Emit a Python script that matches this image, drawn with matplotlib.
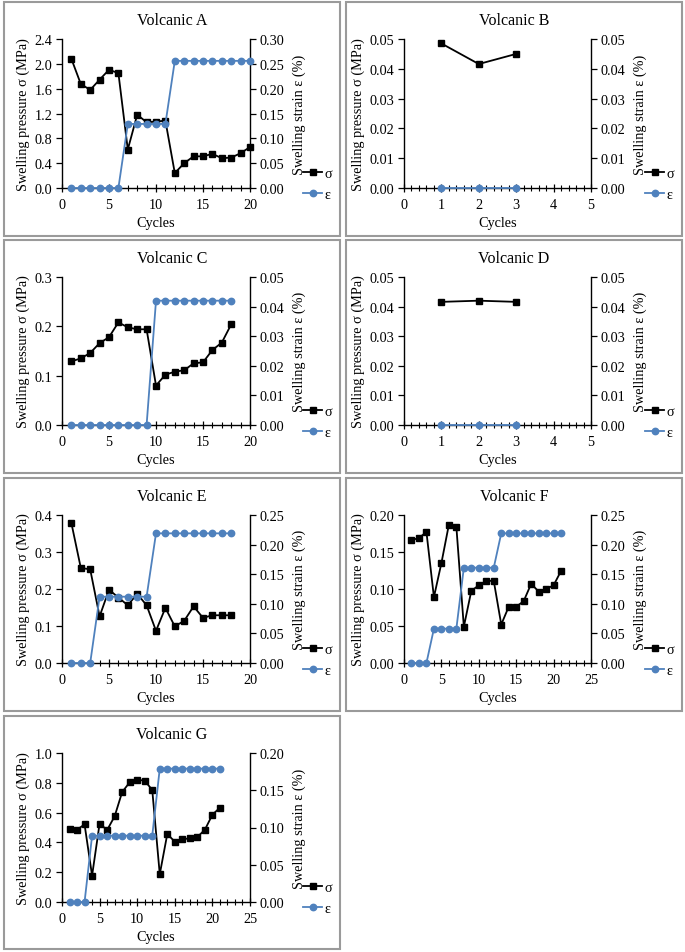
import matplotlib
matplotlib.use("Agg")
import matplotlib.pyplot as plt
from matplotlib.patches import Rectangle
from matplotlib.lines import Line2D
from matplotlib.ticker import MultipleLocator, FormatStrFormatter

plt.rcParams['font.family'] = ['Liberation Serif', 'DejaVu Serif']

W, H = 685, 953

# ---- data ----
cycles_a = list(range(1, 21))
sigma_a = [2.08, 1.675, 1.58, 1.745, 1.905, 1.85, 0.62, 1.18, 1.06, 1.07,
           1.085, 0.24, 0.40, 0.51, 0.51, 0.55, 0.48, 0.49, 0.56, 0.66]
eps_a = [0, 0, 0, 0, 0, 0, 0.129, 0.129, 0.129, 0.129,
         0.129, 0.256, 0.256, 0.256, 0.256, 0.256, 0.256, 0.256, 0.256, 0.256]

cycles_b = [1, 2, 3]
sigma_b = [0.0485, 0.0416, 0.045]
eps_b = [0, 0, 0]

cycles_c = list(range(1, 19))
sigma_c = [0.129, 0.135, 0.146, 0.166, 0.178, 0.208, 0.198, 0.194, 0.194,
           0.080, 0.102, 0.108, 0.111, 0.125, 0.127, 0.152, 0.167, 0.204]
eps_c = [0, 0, 0, 0, 0, 0, 0, 0, 0,
         0.042, 0.042, 0.042, 0.042, 0.042, 0.042, 0.042, 0.042, 0.042]

cycles_d = [1, 2, 3]
sigma_d = [0.0416, 0.042, 0.0416]
eps_d = [0, 0, 0]

cycles_e = list(range(1, 19))
sigma_e = [0.378, 0.257, 0.253, 0.126, 0.198, 0.177, 0.156, 0.187, 0.156,
           0.087, 0.149, 0.099, 0.114, 0.153, 0.122, 0.129, 0.129, 0.129]
eps_e = [0, 0, 0, 0.112, 0.112, 0.112, 0.112, 0.112, 0.112,
         0.219, 0.219, 0.219, 0.219, 0.219, 0.219, 0.219, 0.219, 0.219]

cycles_f = list(range(1, 22))
sigma_f = [0.166, 0.169, 0.177, 0.089, 0.135, 0.187, 0.184, 0.049, 0.0975,
           0.105, 0.111, 0.111, 0.052, 0.076, 0.076, 0.0836, 0.107, 0.0966,
           0.100, 0.105, 0.1245]
eps_f = [0, 0, 0, 0.058, 0.058, 0.058, 0.058, 0.161, 0.161, 0.161, 0.161,
         0.161, 0.219, 0.219, 0.219, 0.219, 0.219, 0.219, 0.219, 0.219, 0.219]

cycles_g = list(range(1, 22))
sigma_g = [0.492, 0.485, 0.521, 0.177, 0.526, 0.483, 0.575, 0.738, 0.803,
           0.821, 0.814, 0.752, 0.186, 0.456, 0.405, 0.421, 0.427, 0.436,
           0.485, 0.586, 0.633]
eps_g = [0, 0, 0, 0.089, 0.089, 0.089, 0.089, 0.089, 0.089, 0.089, 0.089,
         0.089, 0.179, 0.179, 0.179, 0.179, 0.179, 0.179, 0.179, 0.179, 0.179]

names = ["A", "B", "C", "D", "E", "F", "G"]
cycles = [cycles_a, cycles_b, cycles_c, cycles_d, cycles_e, cycles_f, cycles_g]
sigmas = [sigma_a, sigma_b, sigma_c, sigma_d, sigma_e, sigma_f, sigma_g]
epss = [eps_a, eps_b, eps_c, eps_d, eps_e, eps_f, eps_g]

# axis settings: (xmax, xmajor, xminor, ymax, ystep, yfmt, y2max, y2step)
axis_cfg = [
    (20, 5, 1, 2.4, 0.4, "%.1f", 0.30, 0.05),
    (5, 1, 0.2, 0.05, 0.01, "%.2f", 0.05, 0.01),
    (20, 5, 1, 0.3, 0.1, "%.1f", 0.05, 0.01),
    (5, 1, 0.2, 0.05, 0.01, "%.2f", 0.05, 0.01),
    (20, 5, 1, 0.4, 0.1, "%.1f", 0.25, 0.05),
    (25, 5, 1, 0.20, 0.05, "%.2f", 0.25, 0.05),
    (25, 5, 1, 1.0, 0.2, "%.1f", 0.20, 0.05),
]

# panel boxes (pixels): left, top, right, bottom
col_x = [(4, 340), (346, 682)]
row_y = [(3, 237), (241, 474), (479, 712), (717, 950)]
# plot areas in pixels
ax_x = [(62, 250), (404, 591)]
ax_y = [(40, 189), (278, 426), (516, 664), (754, 903)]

fig = plt.figure(figsize=(W / 100, H / 100), dpi=100)
fig.patch.set_facecolor("white")

blue = "#4f81bd"
fs = 10.3

for i, name in enumerate(names):
    r, c = divmod(i, 2)
    px0, px1 = col_x[c]
    py0, py1 = row_y[r]
    fig.patches.append(Rectangle((px0 / W, 1 - py1 / H), (px1 - px0) / W, (py1 - py0) / H,
                                 transform=fig.transFigure, fill=False,
                                 edgecolor="#9a9a9a", linewidth=1.5))
    l, rr = ax_x[c]
    t, b = ax_y[r]
    ax = fig.add_axes([l / W, 1 - b / H, (rr - l) / W, (b - t) / H])
    ax2 = ax.twinx()

    xmax, xmaj, xmin_, ymax, ystep, yfmt, y2max, y2step = axis_cfg[i]

    ax.plot(cycles[i], sigmas[i], color="black", marker="s", markersize=4.8,
            linewidth=1.3, clip_on=False, zorder=3)
    ax2.plot(cycles[i], epss[i], color=blue, marker="o", markersize=4.6,
             linewidth=1.3, clip_on=False, zorder=3)

    ax.set_xlim(0, xmax)
    ax.set_ylim(0, ymax)
    ax2.set_ylim(0, y2max)
    ax.xaxis.set_major_locator(MultipleLocator(xmaj))
    ax.xaxis.set_minor_locator(MultipleLocator(xmin_))
    ax.yaxis.set_major_locator(MultipleLocator(ystep))
    ax.yaxis.set_major_formatter(FormatStrFormatter(yfmt))
    ax2.yaxis.set_major_locator(MultipleLocator(y2step))
    ax2.yaxis.set_major_formatter(FormatStrFormatter("%.2f"))

    for a in (ax, ax2):
        a.spines["top"].set_visible(False)
        for s in a.spines.values():
            s.set_linewidth(1.0)
    ax.spines["right"].set_visible(False)
    ax2.spines["left"].set_visible(False)
    ax2.spines["bottom"].set_visible(False)

    ax.tick_params(axis="x", which="major", direction="inout", length=6, width=0.9,
                   labelsize=fs, pad=4)
    ax.tick_params(axis="x", which="minor", direction="inout", length=4, width=0.8)
    ax.tick_params(axis="y", direction="out", length=4, width=0.9, labelsize=fs, pad=3)
    ax2.tick_params(axis="y", direction="out", length=4, width=0.9, labelsize=fs, pad=3)

    ax.set_xlabel("Cycles", fontsize=fs, labelpad=4)
    ax.set_ylabel("Swelling pressure σ (MPa)", fontsize=fs, labelpad=3)
    ax2.set_ylabel("Swelling strain ε (%)", fontsize=fs, labelpad=6)

    fig.text((px0 + px1) / 2 / W, 1 - (py0 + 18) / H, "Volcanic " + name,
             ha="center", va="center", fontsize=11.5)

    handles = [Line2D([], [], color="black", marker="s", markersize=4.8, linewidth=1.3),
               Line2D([], [], color=blue, marker="o", markersize=4.6, linewidth=1.3)]
    fig.legend(handles, ["σ", "ε"], loc="upper left",
               bbox_to_anchor=((px0 + 299) / W, 1 - (py0 + 165) / H),
               frameon=False, fontsize=fs, handlelength=1.35, handletextpad=0.15,
               labelspacing=0.55, borderpad=0, borderaxespad=0)

fig.savefig("out.png", dpi=100)
